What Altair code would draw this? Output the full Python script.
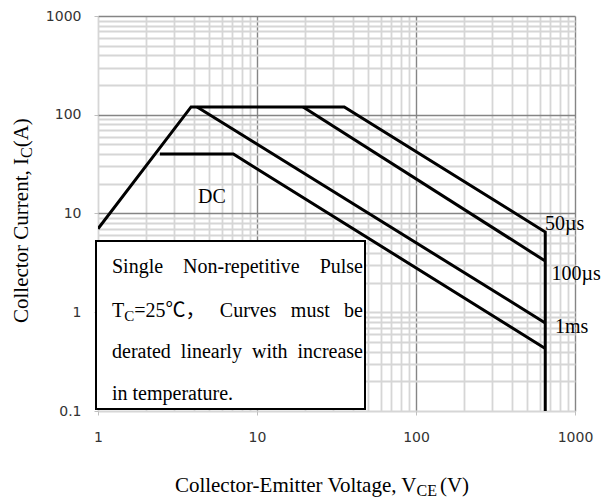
import altair as alt
import pandas as pd

# ---------------- data ----------------
outline_v = [1.0, 3.85, 35.4, 650.0, 650.0]     # 50 us boundary + rising limit
outline_i = [7.0, 120.0, 120.0, 6.5, 0.1]
us100_v = [19.5, 650.0]
us100_i = [120.0, 3.3]
ms1_v = [4.2, 650.0]
ms1_i = [120.0, 0.78]
dc_v = [2.45, 7.1, 650.0]
dc_i = [40.0, 40.0, 0.43]

x_decades = [1, 10, 100, 1000]
y_decades = [0.1, 1, 10, 100, 1000]
mantissas = [1, 2, 3, 4, 5, 6, 7, 8, 9]

curve_labels = ["50µs", "100µs", "1ms", "DC"]
x_title_parts = ["Collector-Emitter Voltage, V", "CE", "(V)"]
y_title_parts = ["Collector Current, I", "C", "(A)"]
box_words = [
    [[("Single", 0)], [("Non-repetitive", 0)], [("Pulse", 0)]],
    [[("T", 0), ("C", 1), ("=25℃，", 0)], [("Curves", 0)], [("must", 0)], [("be", 0)]],
    [[("derated", 0)], [("linearly", 0)], [("with", 0)], [("increase", 0)]],
    [[("in", 0)], [("temperature.", 0)]],
]
box_justify = [True, True, True, False]

# ---------------- layout ----------------
W, H = 477, 395
PAD = {"left": 98, "top": 16, "right": 35, "bottom": 89}
FS, FS_SUB, SUB_DY = 20, 15, 4
FS_T, FS_TSUB = 21, 16
SERIF = "Liberation Serif, Noto Sans CJK SC"

# Times-compatible advance widths (1/1000 em)
ADV = {' ': 250, 'S': 556, 'i': 278, 'n': 500, 'g': 500, 'l': 278, 'e': 444, 'N': 722,
       'o': 500, '-': 333, 'r': 333, 'p': 500, 't': 278, 'v': 500, 'P': 556, 'u': 500,
       's': 389, 'T': 611, 'C': 667, '=': 564, '2': 500, '5': 500, '℃': 1000, '，': 1000,
       'c': 444, 'm': 778, 'b': 500, 'd': 500, 'a': 444, 'y': 500, 'w': 722, 'h': 500,
       '.': 250, 'E': 611, 'V': 722, 'I': 333, 'A': 722, '(': 333, ')': 333, ',': 250}


def tw(s, size):
    return sum(ADV.get(ch, 500) for ch in s) * size / 1000.0


rows = []


def add(text, px, py, fs, ang=0, al="left"):
    rows.append({"t": text, "px": px, "py": py, "fs": fs, "ang": ang, "al": al})


# text box contents (justified)
bx0, bx1 = 14, 265
baselines = [257, 300.5, 342, 384]
for words, just, by in zip(box_words, box_justify, baselines):
    widths = [sum(tw(p, FS_SUB if sub else FS) for p, sub in w) for w in words]
    gap = (bx1 - bx0 - sum(widths)) / (len(words) - 1) if just else tw(" ", FS)
    x = bx0
    for w, wd in zip(words, widths):
        xx = x
        for p, sub in w:
            fs = FS_SUB if sub else FS
            add(p, xx, by + (SUB_DY if sub else 0), fs)
            xx += tw(p, fs)
        x += wd + gap

# curve labels
for lab, (px, py) in zip(curve_labels, [(447, 214), (453.5, 264), (457, 317), (100, 187)]):
    add(lab, px, py, FS)

# x title: main part ends at the anchor, subscript and unit follow it
xa, ybl = 318.5, 475.5
add(x_title_parts[0], xa, ybl, FS_T, 0, "right")
add(x_title_parts[1], xa, ybl + SUB_DY, FS_TSUB)
add(x_title_parts[2], xa + tw(x_title_parts[1], FS_TSUB) + 3, ybl, FS_T)

# y title (rotated): main part ends at the anchor
xb, ya = -70, 142
add(y_title_parts[0], xb, ya, FS_T, 270, "right")
add(y_title_parts[1], xb + SUB_DY, ya, FS_TSUB, 270)
add(y_title_parts[2], xb, ya - tw(y_title_parts[1], FS_TSUB), FS_T, 270)

ann = pd.DataFrame(rows)

# curves
frames = []
for name, vs, cs in [("outline", outline_v, outline_i), ("100us", us100_v, us100_i),
                     ("1ms", ms1_v, ms1_i), ("DC", dc_v, dc_i)]:
    frames.append(pd.DataFrame({"v": vs, "i": cs, "s": name, "o": range(len(vs))}))
curves = pd.concat(frames, ignore_index=True)

x_vals = [round(m * d, 6) for d in x_decades[:-1] for m in mantissas] + [x_decades[-1]]
y_vals = [round(m * d, 6) for d in y_decades[:-1] for m in mantissas] + [y_decades[-1]]


def make_axis(values, decades, major):
    dec = "[" + ",".join(str(d) for d in decades) + "]"
    maj = "[" + ",".join(str(d) for d in major) + "]"
    return alt.Axis(
        values=values, title=None, grid=True, domain=False,
        gridColor={"condition": {"test": f"indexof({maj}, datum.value) >= 0", "value": "#858585"},
                   "value": "#d6d6d6"},
        gridWidth={"condition": {"test": f"indexof({maj}, datum.value) >= 0", "value": 1.4},
                   "value": 1.8},
        tickOpacity={"condition": {"test": f"indexof({dec}, datum.value) >= 0", "value": 1},
                     "value": 0},
        tickColor="#bfbfbf", tickSize=4,
        labelExpr=f"indexof({dec}, datum.value) >= 0 ? '' + datum.value : ''",
        labelOverlap=False, labelFlush=False, labelFont="DejaVu Sans", labelFontSize=14,
        labelColor="#333333",
    )


lines = alt.Chart(curves).mark_line(color="black", strokeWidth=3, clip=True).encode(
    x=alt.X("v:Q", scale=alt.Scale(type="log", domain=[1, 1000]),
            axis=make_axis(x_vals, x_decades, x_decades[1:])),
    y=alt.Y("i:Q", scale=alt.Scale(type="log", domain=[0.1, 1000]),
            axis=make_axis(y_vals, y_decades, y_decades[2:])),
    detail="s:N",
    order="o:Q",
)

box = alt.Chart(alt.Data(values=[{}])).mark_rect(
    fill="white", stroke="black", strokeWidth=2
).encode(x=alt.value(-2), x2=alt.value(267), y=alt.value(225), y2=alt.value(393))


def text_layer(align):
    return alt.Chart(ann[ann["al"] == align]).mark_text(
        font=SERIF, align=align, baseline="alphabetic", color="black"
    ).encode(
        x=alt.X("px:Q", scale=None, axis=None),
        y=alt.Y("py:Q", scale=None, axis=None),
        text="t:N",
        size=alt.Size("fs:Q", scale=None),
        angle=alt.Angle("ang:Q", scale=None),
    )


chart = alt.layer(lines, box, text_layer("left"), text_layer("right")).resolve_scale(
    x="independent", y="independent"
).properties(
    width=W, height=H, autosize=alt.AutoSizeParams(type="none"), padding=PAD
).configure_view(strokeWidth=0).configure_axisX(labelPadding=15).configure_axisY(labelPadding=13)

chart.save("out.html", embed_options={"renderer": "svg", "actions": False})
